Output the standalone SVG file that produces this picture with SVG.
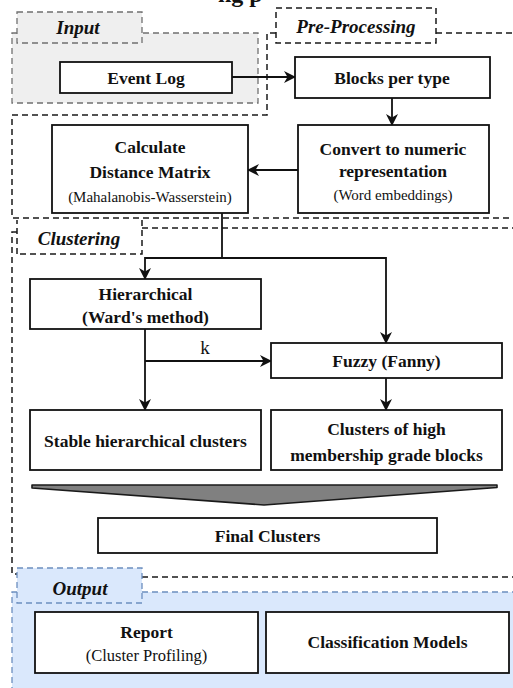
<svg xmlns="http://www.w3.org/2000/svg" width="513" height="688" viewBox="0 0 513 688">
<style>
.box{fill:#fff;stroke:#111;stroke-width:1.8}
.dash{fill:none;stroke:#1a1a1a;stroke-width:1.5;stroke-dasharray:6 4}
.gdash{stroke:#707070;stroke-width:1.3;stroke-dasharray:6 4}
.bdash{stroke:#6c8ebf;stroke-width:1.3;stroke-dasharray:6 4}
text{font-family:'Liberation Serif','DejaVu Serif','Noto Serif',serif;fill:#111}
.t{font-weight:bold;font-size:17.5px;text-anchor:middle}
.s{font-size:15px;text-anchor:middle}
.h{font-weight:bold;font-style:italic;font-size:19px;text-anchor:middle}
.c{fill:none;stroke:#111;stroke-width:1.8}
</style>
<defs>
<marker id="arr" markerUnits="userSpaceOnUse" markerWidth="12" markerHeight="12" viewBox="0 0 12 12" refX="11" refY="6" orient="auto">
<path d="M0,0 L12,6 L0,12 L3.5,6 z" fill="#111"/>
</marker>
</defs>
<rect width="513" height="688" fill="#fff"/>
<text x="218" y="2" font-family="Liberation Serif, serif" font-weight="bold" font-size="24">ng p</text>

<!-- Input region -->
<g id="region-input">
<rect x="12" y="33" width="246" height="70" fill="#efefef"/>
<path class="gdash" fill="none" d="M17,33 H12 V103 H258 V33 H142"/>
<rect x="17" y="12" width="125" height="31" fill="#efefef" class="gdash"/>
<text class="h" x="78" y="34" font-family="Liberation Serif, serif">Input</text>
</g>

<!-- Pre-Processing region -->
<g id="region-preprocessing">
<path class="dash" d="M436,33 H515 M276,33 H267 V115 H12 V218 H515"/>
<rect x="276" y="8" width="160" height="35" class="dash"/>
<text class="h" x="356" y="33" font-family="Liberation Serif, serif">Pre-Processing</text>
</g>

<!-- Clustering region -->
<g id="region-clustering">
<path class="dash" d="M142,228 H515 M17,232 H12 V574 H17 M142,577 H515"/>
<path class="dash" d="M17,254 V220 M142,220 V254 H17"/>
<text class="h" x="79" y="245" font-family="Liberation Serif, serif">Clustering</text>
</g>

<!-- Output region -->
<g id="region-output">
<rect x="12" y="592" width="503" height="100" fill="#dae8fc"/>
<path class="bdash" fill="none" d="M17,592 H12 V692 M142,592 H515"/>
<rect x="17" y="568" width="125" height="35" fill="#dae8fc" class="bdash"/>
<text class="h" x="80" y="595" font-family="Liberation Serif, serif">Output</text>
</g>

<g id="connectors">
<line class="c" x1="232" y1="77" x2="295" y2="77" marker-end="url(#arr)"/>
<line class="c" x1="392" y1="98" x2="392" y2="125" marker-end="url(#arr)"/>
<line class="c" x1="298" y1="170" x2="248" y2="170" marker-end="url(#arr)"/>
<polyline class="c" points="222,213 222,258"/>
<polyline class="c" points="222,258 145,258 145,279" marker-end="url(#arr)"/>
<polyline class="c" points="222,258 386,258 386,343" marker-end="url(#arr)"/>
<line class="c" x1="145" y1="329" x2="145" y2="410" marker-end="url(#arr)"/>
<line class="c" x1="145" y1="361" x2="271" y2="361" marker-end="url(#arr)"/>
<text x="205" y="354" font-family="Liberation Serif, serif" font-size="19" text-anchor="middle">k</text>
<line class="c" x1="386" y1="378" x2="386" y2="410" marker-end="url(#arr)"/>
<polygon points="32,485 497,485 497,487.5 264,505 32,488" fill="#808080" stroke="#1a1a1a" stroke-width="1.6" stroke-linejoin="round"/>
</g>

<g id="event-log">
<rect class="box" x="60" y="62" width="172" height="31"/>
<text class="t" x="146" y="83.5" font-family="Liberation Serif, serif">Event Log</text>
</g>
<g id="blocks-per-type">
<rect class="box" x="295" y="57" width="195" height="41"/>
<text class="t" x="392" y="83.5" font-family="Liberation Serif, serif">Blocks per type</text>
</g>
<g id="convert">
<rect class="box" x="298" y="125" width="191" height="88"/>
<text class="t" x="393" y="155" font-family="Liberation Serif, serif">Convert to numeric</text>
<text class="t" x="393" y="177" font-family="Liberation Serif, serif">representation</text>
<text class="s" x="393" y="200" font-family="Liberation Serif, serif">(Word embeddings)</text>
</g>
<g id="distance-matrix">
<rect class="box" x="52" y="125" width="196" height="88"/>
<text class="t" x="150" y="153" font-family="Liberation Serif, serif">Calculate</text>
<text class="t" x="150" y="178" font-family="Liberation Serif, serif">Distance Matrix</text>
<text class="s" x="150" y="202" font-family="Liberation Serif, serif">(Mahalanobis-Wasserstein)</text>
</g>
<g id="hierarchical">
<rect class="box" x="30" y="279" width="231" height="50"/>
<text class="t" x="145.5" y="300" font-family="Liberation Serif, serif">Hierarchical</text>
<text class="t" x="145.5" y="323" font-family="Liberation Serif, serif">(Ward's method)</text>
</g>
<g id="fuzzy">
<rect class="box" x="271" y="343" width="231" height="35"/>
<text class="t" x="386.5" y="367" font-family="Liberation Serif, serif">Fuzzy (Fanny)</text>
</g>
<g id="stable">
<rect class="box" x="30" y="410" width="231" height="60"/>
<text class="t" x="145.5" y="447" font-family="Liberation Serif, serif">Stable hierarchical clusters</text>
</g>
<g id="high-membership">
<rect class="box" x="271" y="410" width="231" height="60"/>
<text class="t" x="386.5" y="435" font-family="Liberation Serif, serif">Clusters of high</text>
<text class="t" x="386.5" y="461" font-family="Liberation Serif, serif">membership grade blocks</text>
</g>
<g id="final-clusters">
<rect class="box" x="98" y="518" width="339" height="35"/>
<text class="t" x="267.5" y="542" font-family="Liberation Serif, serif">Final Clusters</text>
</g>
<g id="report">
<rect class="box" x="35" y="612" width="223" height="61"/>
<text class="t" x="146.5" y="638" font-family="Liberation Serif, serif">Report</text>
<text class="s" x="146.5" y="661" font-family="Liberation Serif, serif" style="font-size:16.5px">(Cluster Profiling)</text>
</g>
<g id="classification">
<rect class="box" x="266" y="612" width="243" height="61"/>
<text class="t" x="387.5" y="648" font-family="Liberation Serif, serif">Classification Models</text>
</g>
</svg>
